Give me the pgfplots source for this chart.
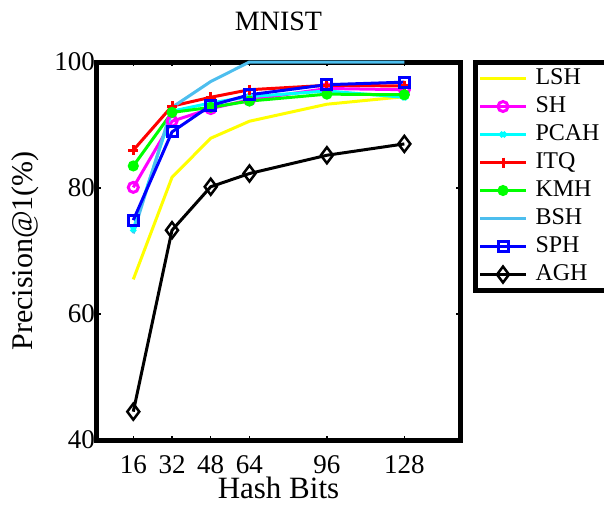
\documentclass[border=0pt]{standalone}
\usepackage{pgfplots}
\pgfplotsset{compat=1.18}
\usepackage{fontspec}
\setmainfont{Liberation Serif}
\definecolor{bshblue}{RGB}{77,190,238}
\definecolor{lshyellow}{RGB}{255,255,0}
\definecolor{shmagenta}{RGB}{255,0,255}
\definecolor{pcahcyan}{RGB}{0,255,255}
\definecolor{itqred}{RGB}{255,0,0}
\definecolor{kmhgreen}{RGB}{0,255,0}
\definecolor{sphblue}{RGB}{0,0,255}
\begin{document}
\begin{tikzpicture}
\begin{axis}[
    scale only axis,
    width=363pt, height=378pt,
    xmin=1, xmax=151, ymin=40, ymax=100,
    xtick={16,32,48,64,96,128},
    ytick={40,60,80,100},
    axis line style={line width=5pt, line cap=rect},
    tick align=inside,
    major tick length=4pt,
    tick style={line width=1.5pt, black},
    /pgf/number format/assume math mode=true,
    tick label style={font=\fontsize{27}{30}\selectfont},
    yticklabel style={inner sep=2pt},
    xticklabel style={anchor=base, yshift=-33pt, text depth=0pt, inner ysep=0pt},
    title={MNIST},
    title style={at={(axis description cs:0.5,1)}, anchor=base, yshift=26pt, font=\fontsize{28}{32}\selectfont},
    xlabel={Hash Bits},
    xlabel style={at={(axis description cs:0.5,0)}, anchor=base, yshift=-58pt, text height=21pt, inner ysep=0pt, font=\fontsize{31}{34}\selectfont},
    ylabel={Precision@1(\%)},
    ylabel style={at={(axis description cs:-0.198,0.5)}, anchor=center, font=\fontsize{30}{34}\selectfont},
    clip=false,
    legend style={at={(1,1)}, anchor=north west, xshift=13pt, yshift=2pt,
        draw=black, line width=5pt, font=\fontsize{24}{27}\selectfont,
        nodes={text height=16pt, text depth=5pt, inner ysep=3.5pt, inner xsep=8pt}},
    legend cell align=left,
    legend image code/.code={\draw[mark repeat=2, mark phase=2, #1] plot coordinates {(2pt,0pt) (25pt,0pt) (48pt,0pt)};},
    every axis plot/.append style={line width=3pt},
    every mark/.append style={solid, line width=2pt},
]
\addplot[lshyellow] coordinates {(16,65.5) (32,81.7) (48,87.9) (64,90.6) (96,93.3) (128,94.5)};
\addlegendentry{LSH}
\addplot[shmagenta, mark=o, mark size=5pt] coordinates {(16,80.1) (32,90.6) (48,92.6) (64,94.0) (96,95.8) (128,95.6)};
\addlegendentry{SH}
\addplot[pcahcyan, mark=x, mark size=3.5pt] coordinates {(16,73.5) (32,92.2) (48,93.5) (64,94.5) (96,95.4) (128,94.4)};
\addlegendentry{PCAH}
\addplot[itqred, mark=+, mark size=5pt] coordinates {(16,86.0) (32,93.0) (48,94.4) (64,95.6) (96,96.3) (128,96.2)};
\addlegendentry{ITQ}
\addplot[kmhgreen, mark=*, mark size=4pt] coordinates {(16,83.5) (32,92.0) (48,92.8) (64,93.8) (96,94.9) (128,94.8)};
\addlegendentry{KMH}
\addplot[bshblue] coordinates {(16,72.8) (32,92.8) (48,96.9) (64,100) (96,100) (128,100)};
\addlegendentry{BSH}
\addplot[sphblue, mark=square, mark size=5pt, mark options={line width=3pt}] coordinates {(16,74.9) (32,88.9) (48,93.1) (64,94.8) (96,96.4) (128,96.8)};
\addlegendentry{SPH}
\addplot[black, mark=diamond, mark size=8pt, mark options={line width=2.5pt}] coordinates {(16,44.5) (32,73.3) (48,80.2) (64,82.3) (96,85.2) (128,87.0)};
\addlegendentry{AGH}
\end{axis}
\pgfresetboundingbox
\useasboundingbox (-97pt,-64pt) rectangle (507pt,440pt);
\end{tikzpicture}
\end{document}
